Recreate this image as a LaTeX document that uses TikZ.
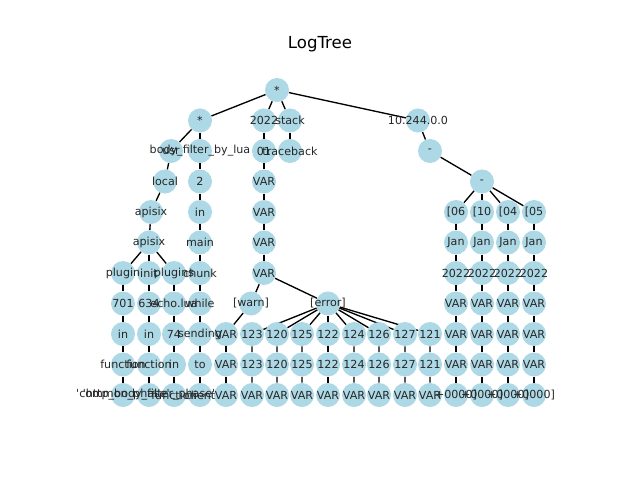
\documentclass[tikz,border=0pt]{standalone}
\usepackage{fontspec}
\setmainfont{DejaVu Sans}
\usepackage{xcolor}
\usepackage{tikz}
\usetikzlibrary{backgrounds}

\definecolor{nodeblue}{RGB}{173,216,230}
\pgfdeclarelayer{front}
\pgfsetlayers{background,main,front}

\tikzset{
  vtx/.style={circle, fill=nodeblue, minimum size=0.6cm, inner sep=0pt},
  lbl/.style={font=\fontsize{7.9}{9}\selectfont, text=black!85, inner sep=0pt},
  edge/.style={line width=0.95pt}
}

% circle plus its label on the front layer: name, x, row, text
\newcommand\lognode[4]{%
  \node[vtx] (#1) at (#2,{90+30.5*#3}) {};
  \begin{pgfonlayer}{front}\node[lbl] (#1-t) at (#1) {#4};\end{pgfonlayer}}

\begin{document}
\begin{tikzpicture}[x=0.025cm,y=-0.025cm]
    \useasboundingbox (0,0) rectangle (640,480);
    \node[font=\fontsize{11.8}{14}\selectfont] (title) at (320,44) {LogTree};

    % single nodes
    \foreach \n/\x/\k/\t in {r/277/0/*, a1/200/1/*, c1/290/1/stack, c2/290/2/traceback,
                              d1/418/1/10.244.0.0, d2/430/2/-, d3/482/3/-,
                              u2/171/2/usr, u3/165/3/local, u4/151/4/apisix, u5/149/5/apisix,
                              w7/251/7/[warn], x7/328/7/[error]}
        \lognode{\n}{\x}{\k}{\t};

    % columns
    \foreach \k/\t in {1/2022, 2/01, 3/VAR, 4/VAR, 5/VAR, 6/VAR}
        \lognode{b\k}{264}{\k}{\t};
    \foreach \k/\t in {2/body\_filter\_by\_lua, 3/2, 4/in, 5/main, 6/chunk,
                       7/while, 8/sending, 9/to, 10/client}
        \lognode{m\k}{200}{\k}{\t};
    \foreach \k/\t in {6/plugin, 7/701, 8/in, 9/function, 10/\textquotesingle common\_phase\textquotesingle}
        \lognode{p\k}{123}{\k}{\t};
    \foreach \k/\t in {6/init, 7/634, 8/in, 9/function, 10/\textquotesingle http\_body\_filter\_phase\textquotesingle}
        \lognode{q\k}{149}{\k}{\t};
    \foreach \k/\t in {6/plugins, 7/echo.lua, 8/74, 9/in, 10/function}
        \lognode{s\k}{174}{\k}{\t};
    \foreach \k in {8,9,10}
        \lognode{w\k}{226}{\k}{VAR};

    % [error] children
    \foreach \i/\x/\v in {1/252/123, 2/277/120, 3/302/125, 4/328/122,
                          5/354/124, 6/379/126, 7/405/127, 8/430/121} {
        \lognode{n\i-8}{\x}{8}{\v};
        \lognode{n\i-9}{\x}{9}{\v};
        \lognode{n\i-10}{\x}{10}{VAR};
    }

    % dates
    \foreach \c/\x/\d in {e/456/06, f/482/10, g/508/04, h/534/05} {
        \lognode{\c4}{\x}{4}{[\d};
        \lognode{\c5}{\x}{5}{Jan};
        \lognode{\c6}{\x}{6}{2022};
        \foreach \k in {7,8,9}
            \lognode{\c\k}{\x}{\k}{VAR};
        \lognode{\c10}{\x}{10}{+0000]};
    }

    \begin{pgfonlayer}{background}
        \foreach \u/\v in {r/a1, r/b1, r/c1, r/d1, a1/u2, a1/m2, c1/c2, d1/d2, d2/d3,
                           u2/u3, u3/u4, u4/u5, u5/p6, u5/q6, u5/s6,
                           b6/w7, b6/x7, w7/w8, d3/e4, d3/f4, d3/g4, d3/h4}
            \draw[edge] (\u) -- (\v);
        \foreach \c/\s/\e in {b/2/6, m/3/10, p/7/10, q/7/10, s/7/10, w/9/10,
                              e/5/10, f/5/10, g/5/10, h/5/10}
            \foreach \k in {\s,...,\e} {
                \pgfmathtruncatemacro\j{\k-1}
                \draw[edge] (\c\j) -- (\c\k);
            }
        \foreach \i in {1,...,8}
            \draw[edge] (x7) -- (n\i-8) -- (n\i-9) -- (n\i-10);
    \end{pgfonlayer}
\end{tikzpicture}
\end{document}
